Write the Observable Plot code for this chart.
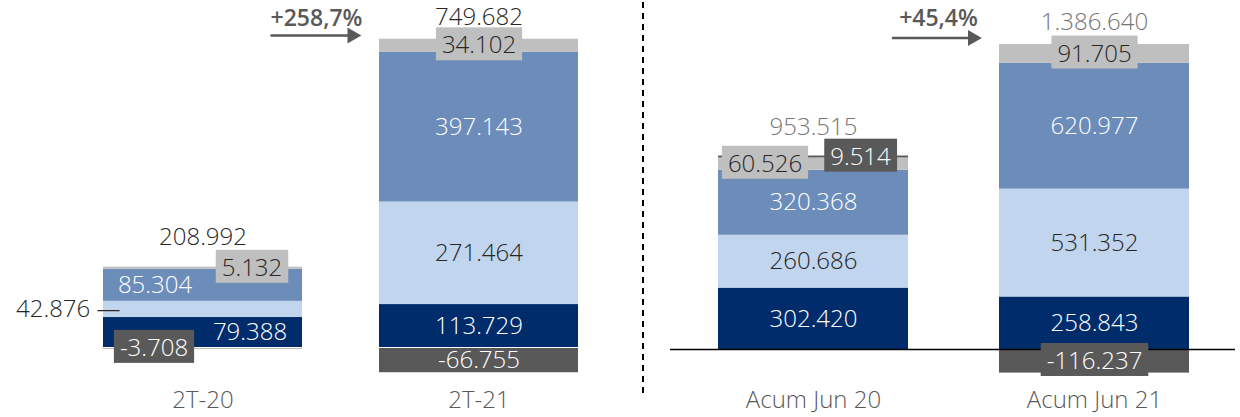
<!DOCTYPE html>
<html><head><meta charset="utf-8">
<script src="https://cdn.jsdelivr.net/npm/d3@7"></script>
<script src="https://cdn.jsdelivr.net/npm/@observablehq/plot@0.6"></script>
<style>
html,body{margin:0;padding:0;background:#fff;}
#chart{display:flex;width:1240px;height:417px;overflow:hidden;}
#chart svg{flex:0 0 auto;max-width:none;}
</style></head><body><div id="chart"></div>
<script>
// ---------- data ----------
const leftCats = ["2T-20", "2T-21"];
const leftNavy = [79388, 113729];
const leftLight = [42876, 271464];
const leftMid = [85304, 397143];
const leftGray = [5132, 34102];
const leftDark = [-3708, -66755];
const leftTotals = [208992, 749682];
const leftGrowth = ["+258,7%"];

const rightCats = ["Acum Jun 20", "Acum Jun 21"];
const rightNavy = [302420, 258843];
const rightLight = [260686, 531352];
const rightMid = [320368, 620977];
const rightGray = [60526, 91705];
const rightDark = [9514, -116237];
const rightTotals = [953515, 1386640];
const rightGrowth = ["+45,4%"];

const seriesNames = ["navy", "light", "mid", "gray", "dark"];
const seriesColors = ["#002C6B", "#C2D5EE", "#6C8CBA", "#BFBFBF", "#595959"];

// ---------- helpers ----------
const locale = d3.formatLocale({decimal: ",", thousands: ".", grouping: [3], currency: ["", ""], minus: "-"});
const fmt = locale.format(",d");
const W = 300; // light weight for value labels

function tidy(cats, arrays) {
  const rows = [];
  seriesNames.forEach((s, j) => cats.forEach((c, i) => rows.push({cat: c, series: s, value: arrays[j][i]})));
  return rows;
}
function tops(cats, arrays, totals) {
  return cats.map((c, i) => ({cat: c, top: d3.sum(arrays, a => Math.max(0, a[i])), total: totals[i]}));
}
function seg(table, series, cat, opts = {}, suffix = "") {
  return Plot.text(table, Plot.stackY({
    x: "cat", y: "value", z: "series", order: seriesNames, fontWeight: W,
    text: d => (d.series === series && d.cat === cat) ? fmt(d.value) + suffix : null,
    ...opts
  }));
}
const base = {
  height: 417, marginTop: 0, marginBottom: 30,
  style: {fontFamily: "'Open Sans', sans-serif", fontSize: "24px", background: "white", overflow: "visible"},
  color: {domain: seriesNames, range: seriesColors}
};

// ---------- left panel ----------
const leftArrays = [leftNavy, leftLight, leftMid, leftGray, leftDark];
const leftTable = tidy(leftCats, leftArrays);
const leftTop = tops(leftCats, leftArrays, leftTotals);
const leftAnn = [{from: leftCats[0], to: leftCats[1], top: leftTop[1].top, label: leftGrowth[0]}];

const left = Plot.plot({
  ...base, width: 630, marginLeft: 0, marginRight: 0,
  x: {domain: leftCats, range: [103, 578], paddingInner: 0.279, paddingOuter: 0},
  y: {domain: [0, 919000], range: [347, 0], axis: null},
  marks: [
    Plot.barY(leftTable, {x: "cat", y: "value", fill: "series", order: seriesNames}),
    Plot.ruleY([0], {stroke: "white", strokeWidth: 1}),
    Plot.axisX({tickSize: 0, tickPadding: 3, fontSize: 24, fontWeight: W, fill: "#595959", label: null}),
    seg(leftTable, "navy", "2T-20", {fill: "white", dx: 47}),
    seg(leftTable, "navy", "2T-21", {fill: "white"}),
    seg(leftTable, "light", "2T-20", {fill: "#262626", textAnchor: "end", dx: -82.5}, " —"),
    seg(leftTable, "light", "2T-21", {fill: "#262626"}),
    seg(leftTable, "mid", "2T-20", {fill: "white", dx: -48}),
    seg(leftTable, "mid", "2T-21", {fill: "white"}),
    seg(leftTable, "gray", "2T-20", {fill: "#262626", dx: 49, ariaDescription: "box-light", className: "box-light"}),
    seg(leftTable, "gray", "2T-21", {fill: "#262626", ariaDescription: "box-light", className: "box-light"}),
    seg(leftTable, "dark", "2T-20", {fill: "white", dx: -49, ariaDescription: "box-dark", className: "box-dark"}),
    seg(leftTable, "dark", "2T-21", {fill: "white"}),
    Plot.text(leftTop.slice(0, 1), {x: "cat", y: "top", text: d => fmt(d.total), fill: "#262626", fontWeight: W, dy: -29.5}),
    Plot.text(leftTop.slice(1), {x: "cat", y: "top", text: d => fmt(d.total), fill: "#262626", fontWeight: W, dy: -21.5}),
    Plot.arrow(leftAnn, {x1: "from", x2: "to", y1: "top", y2: "top", dy: -3.7, stroke: "#595959", strokeWidth: 2.5, headLength: 0, insetStart: 68.5, insetEnd: 130.5}),
    Plot.dot(leftAnn, {x: "to", y: "top", symbol: "triangle", rotate: 90, r: 5.94, fill: "#595959", stroke: "none", dx: -126.9, dy: -3.7}),
    Plot.text(leftAnn, {x: "from", y: "top", text: "label", fill: "#595959", fontWeight: 600, fontSize: 23, dx: 113.5, dy: -21})
  ]
});

// ---------- right panel ----------
const rightArrays = [rightNavy, rightLight, rightMid, rightGray, rightDark];
const rightTable = tidy(rightCats, rightArrays);
const rightTop = tops(rightCats, rightArrays, rightTotals);
const rightAnn = [{from: rightCats[0], to: rightCats[1], top: rightTop[1].top, label: rightGrowth[0]}];

const right = Plot.plot({
  ...base, width: 610, marginLeft: 40, marginRight: 5,
  x: {domain: rightCats, range: [87, 559], paddingInner: 0.325, paddingOuter: 0},
  y: {domain: [0, 1720000], range: [349, 0], axis: null},
  marks: [
    Plot.ruleX([rightCats[0]], {x: d => d, dx: -170.5, stroke: "black", strokeWidth: 2, strokeDasharray: "6,5", insetBottom: -10, insetTop: 2}),
    Plot.barY(rightTable, {x: "cat", y: "value", fill: "series", order: seriesNames}),
    Plot.ruleY([0], {stroke: "black", strokeWidth: 1.5}),
    Plot.axisX({tickSize: 0, tickPadding: 3, fontSize: 24, fontWeight: W, fill: "#595959", label: null}),
    ...rightCats.map(c => seg(rightTable, "navy", c, {fill: "white"})),
    ...rightCats.map(c => seg(rightTable, "light", c, {fill: "#262626"})),
    ...rightCats.map(c => seg(rightTable, "mid", c, {fill: "white"})),
    seg(rightTable, "gray", "Acum Jun 20", {fill: "#262626", dx: -48.5, ariaDescription: "box-light", className: "box-light"}),
    seg(rightTable, "dark", "Acum Jun 20", {fill: "white", dx: 47, ariaDescription: "box-dark", className: "box-dark"}),
    seg(rightTable, "gray", "Acum Jun 21", {fill: "#262626", ariaDescription: "box-light", className: "box-light"}),
    seg(rightTable, "dark", "Acum Jun 21", {fill: "white", ariaDescription: "box-dark", className: "box-dark"}),
    Plot.text(rightTop.slice(0, 1), {x: "cat", y: "top", text: d => fmt(d.total), fill: "#767676", fontWeight: W, dy: -28.5}),
    Plot.text(rightTop.slice(1), {x: "cat", y: "top", text: d => fmt(d.total), fill: "#767676", fontWeight: W, dy: -22}),
    Plot.arrow(rightAnn, {x1: "from", x2: "to", y1: "top", y2: "top", dy: -6.6, stroke: "#595959", strokeWidth: 2.5, headLength: 0, insetStart: 79.5, insetEnd: 125.5}),
    Plot.dot(rightAnn, {x: "to", y: "top", symbol: "triangle", rotate: 90, r: 5.94, fill: "#595959", stroke: "none", dx: -121.9, dy: -6.6}),
    Plot.text(rightAnn, {x: "from", y: "top", text: "label", fill: "#595959", fontWeight: 600, fontSize: 23, dx: 125, dy: -26})
  ]
});

const host = document.getElementById("chart");
host.appendChild(left);
host.appendChild(right);

// label boxes behind boxed value labels
function addBoxes(svg) {
  const groups = new Set([
    ...svg.querySelectorAll('g[aria-description^="box-"]'),
    ...svg.querySelectorAll('g.box-light, g.box-dark')
  ]);
  groups.forEach(g => {
    const tag = (g.getAttribute("aria-description") || g.getAttribute("class") || "");
    const fill = tag.includes("box-light") ? "#BFBFBF" : "#595959";
    g.querySelectorAll("text").forEach(t => {
      const b = t.getBBox();
      const r = document.createElementNS("http://www.w3.org/2000/svg", "rect");
      r.setAttribute("x", b.x - 6);
      r.setAttribute("y", b.y);
      r.setAttribute("width", b.width + 12);
      r.setAttribute("height", b.height);
      r.setAttribute("fill", fill);
      r.setAttribute("stroke", "none");
      if (t.getAttribute("transform")) r.setAttribute("transform", t.getAttribute("transform"));
      t.parentNode.insertBefore(r, t);
    });
  });
}
addBoxes(left);
addBoxes(right);
</script>
</body></html>
